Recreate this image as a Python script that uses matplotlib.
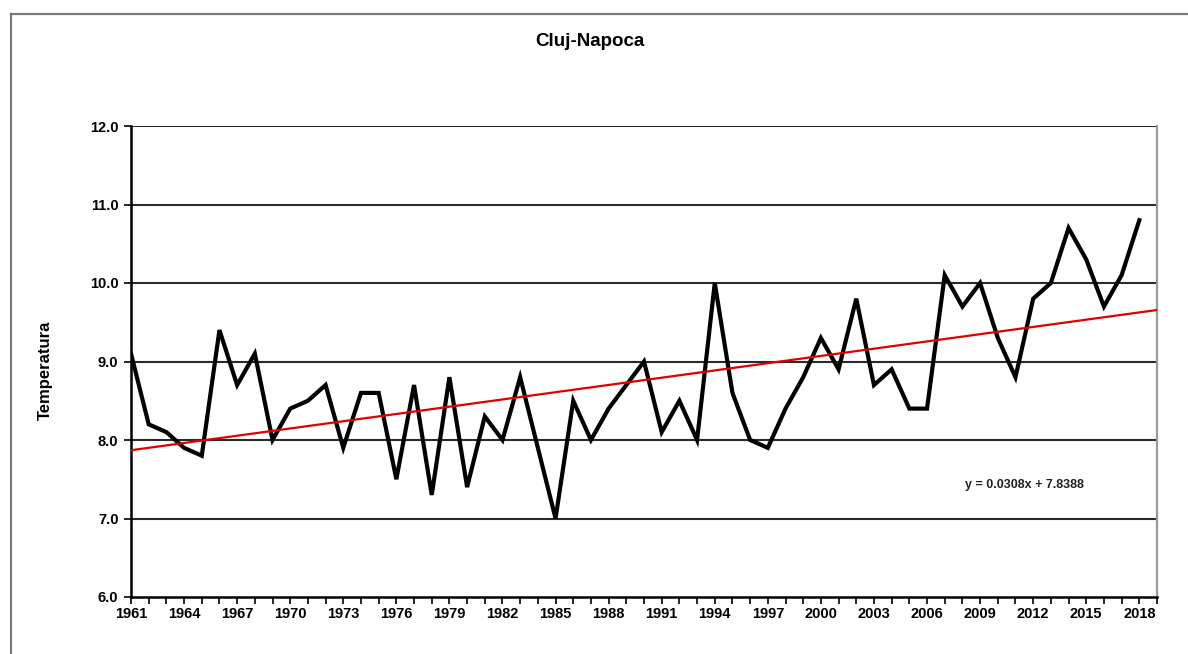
import matplotlib
matplotlib.use("Agg")
import matplotlib.pyplot as plt
from matplotlib.lines import Line2D
import numpy as np

plt.rcParams['font.family'] = ['Liberation Sans', 'DejaVu Sans']

years = list(range(1961, 2019))
temps = [9.1, 8.2, 8.1, 7.9, 7.8, 9.4, 8.7, 9.1, 8.0, 8.4,
         8.5, 8.7, 7.9, 8.6, 8.6, 7.5, 8.7, 7.3, 8.8, 7.4,
         8.3, 8.0, 8.8, 7.9, 7.0, 8.5, 8.0, 8.4, 8.7, 9.0,
         8.1, 8.5, 8.0, 10.0, 8.6, 8.0, 7.9, 8.4, 8.8, 9.3,
         8.9, 9.8, 8.7, 8.9, 8.4, 8.4, 10.1, 9.7, 10.0, 9.3,
         8.8, 9.8, 10.0, 10.7, 10.3, 9.7, 10.1, 10.8]
trend_slope = 0.0308
trend_intercept = 7.8388
trend_years = list(range(1961, 2020))
y_ticks = [6.0, 7.0, 8.0, 9.0, 10.0, 11.0, 12.0]
label_years = list(range(1961, 2019, 3))
title = "Cluj-Napoca"
ylabel = "Temperatura"
equation = "y = 0.0308x + 7.8388"

W, H = 1188, 654
fig = plt.figure(figsize=(W / 100, H / 100), dpi=100)
ax = fig.add_axes([131 / W, 1 - 597 / H, (1157 - 131) / W, (597 - 126) / H])

# outer chart border
fig.add_artist(Line2D([11 / W, 1.2], [1 - 14 / H, 1 - 14 / H], transform=fig.transFigure,
                      color='#7a7a7a', lw=1.6))
fig.add_artist(Line2D([11 / W, 11 / W], [1 - 14 / H, -0.2], transform=fig.transFigure,
                      color='#7a7a7a', lw=1.6))

for yv in y_ticks[1:]:
    ax.axhline(yv, color='#2a2a2a', lw=1.5, zorder=1)

ax.plot(years, temps, color='black', lw=3.0, zorder=3, solid_joinstyle='miter')
ti = np.array(trend_years) - 1960
ax.plot(trend_years, trend_slope * ti + trend_intercept, color='#e00000', lw=1.6, zorder=4)

ax.set_xlim(1961, 2019)
ax.set_ylim(6.0, 12.0)
ax.set_yticks(y_ticks)
ax.set_yticklabels([f"{v:.1f}" for v in y_ticks], fontsize=10.5, fontweight='bold')
ax.set_xticks(list(range(1961, 2020)))
ax.set_xticklabels([str(y) if y in label_years else '' for y in range(1961, 2020)],
                   fontsize=10.5, fontweight='bold')
ax.tick_params(axis='both', direction='out', length=5, width=1.2, color='black')
ax.tick_params(axis='y', pad=4)
ax.tick_params(axis='x', pad=2)

ax.spines['left'].set_color('black')
ax.spines['left'].set_linewidth(1.8)
ax.spines['bottom'].set_color('black')
ax.spines['bottom'].set_linewidth(1.8)
ax.spines['right'].set_color('#9a9a9a')
ax.spines['right'].set_linewidth(1.6)
ax.spines['top'].set_visible(False)

fig.text(590 / W, 1 - 42 / H, title, ha='center', va='center', fontsize=13.5, fontweight='bold')
fig.text(45 / W, 1 - 370 / H, ylabel, ha='center', va='center', rotation=90,
         fontsize=12, fontweight='bold')
ax.text(0.871, 0.238, equation, transform=ax.transAxes, ha='center', va='center',
        fontsize=9, fontweight='bold', color='#222222')

fig.savefig("out.png", dpi=100)
